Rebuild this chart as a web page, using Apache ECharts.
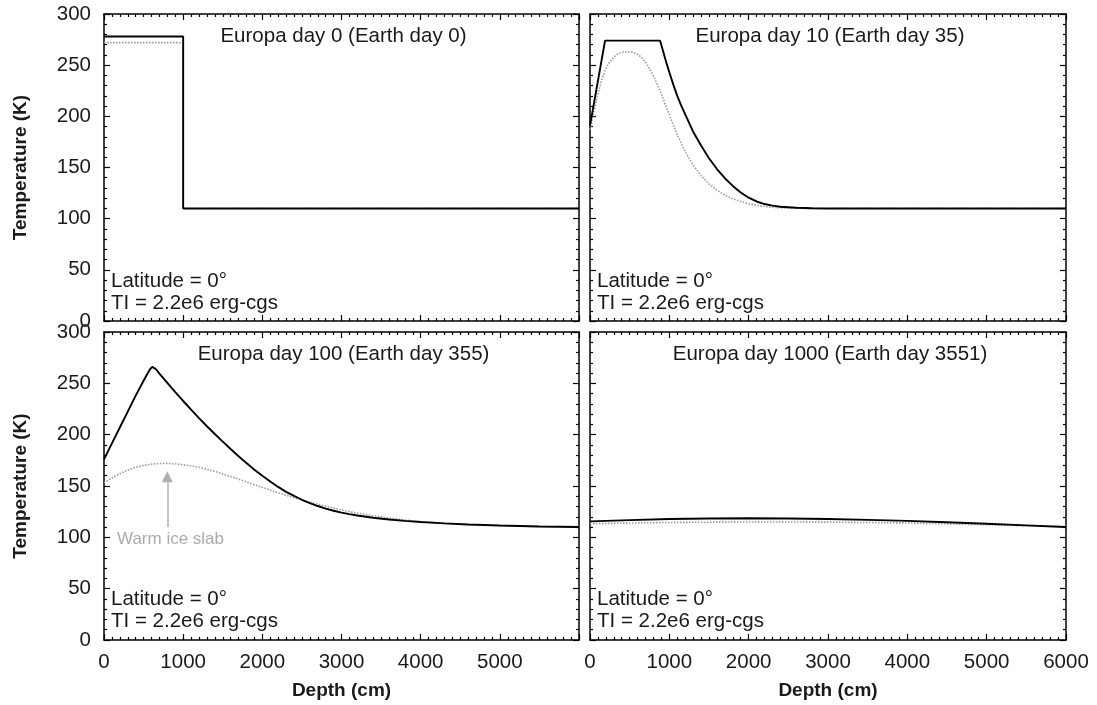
<!DOCTYPE html>
<html>
<head>
<meta charset="utf-8">
<title>Europa warm ice slab</title>
<script src="https://cdn.jsdelivr.net/npm/echarts@6/dist/echarts.min.js"></script>
<style>
html, body { margin: 0; padding: 0; background: #fff; }
#main { width: 1097px; height: 705px; }
</style>
</head>
<body>
<div id="main"></div>
<script>
/* panel texts */
var panelTitles = [
	'Europa day 0 (Earth day 0)',
	'Europa day 10 (Earth day 35)',
	'Europa day 100 (Earth day 355)',
	'Europa day 1000 (Earth day 3551)'
];
var latitudeText = 'Latitude = 0°';
var inertiaText = 'TI = 2.2e6 erg-cgs';
var slabText = 'Warm ice slab';

/* axes: depth (cm) and temperature (K) */
var depthMin = 0, depthMax = 6000, depthStep = 1000;
var tempMin = 0, tempMax = 300, tempStep = 50;

/* [depth, temperature] - solid black and dotted grey profiles */
var day0Solid = [[0, 278], [1000, 278], [1000, 110], [6000, 110]];
var day0Dotted = [[0, 272], [1000, 272], [1000, 110], [6000, 110]];

var day10Solid = [[0, 191], [190, 274], [883, 274], [920, 264], [960, 253], [1000, 243], [1050, 231],
	[1100, 220], [1150, 210.5], [1200, 202], [1300, 185], [1400, 171.5], [1500, 159], [1600, 148.5],
	[1700, 139.5], [1800, 132], [1900, 125.5], [2000, 120.5], [2100, 116.8], [2200, 114.3], [2300, 112.7],
	[2400, 111.7], [2600, 110.6], [2800, 110.2], [3000, 110], [6000, 110]];
var day10Dotted = [[0, 187], [50, 205], [100, 222], [150, 236], [200, 246.5], [250, 253.5], [300, 258],
	[350, 261], [400, 262.5], [450, 263], [500, 263], [550, 262.3], [600, 260.5], [650, 257.5], [700, 253],
	[750, 247], [800, 239.5], [850, 231], [900, 221.5], [950, 211.5], [1000, 201.5], [1050, 191.5],
	[1100, 182], [1150, 173.3], [1200, 165.5], [1300, 152.3], [1400, 142], [1500, 134], [1600, 127.8],
	[1700, 123], [1800, 119.4], [1900, 116.7], [2000, 114.6], [2100, 113], [2200, 111.9], [2300, 111.1],
	[2400, 110.6], [2600, 110.2], [2800, 110], [6000, 110]];

var day100Solid = [[0, 176], [100, 191.5], [200, 207], [300, 222.5], [400, 238], [500, 252.5], [550, 259.5],
	[580, 263.5], [610, 266], [630, 266], [660, 263.5], [700, 259.5], [800, 250.5], [900, 241.5],
	[1000, 232.8], [1100, 224.3], [1200, 216.1], [1300, 208.2], [1400, 200.6], [1500, 193.2], [1600, 186],
	[1700, 179], [1800, 172.3], [1900, 165.9], [2000, 159.9], [2100, 154.3], [2200, 149.1], [2300, 144.3],
	[2400, 140.3], [2500, 136.6], [2600, 133.3], [2700, 130.5], [2800, 128], [2900, 125.9], [3000, 124.1],
	[3100, 122.6], [3200, 121.3], [3400, 119.1], [3600, 117.4], [3800, 116], [4000, 114.9], [4300, 113.6],
	[4600, 112.5], [5000, 111.5], [5500, 110.6], [6000, 110]];
var day100Dotted = [[0, 153], [100, 157.8], [200, 162], [300, 165.5], [400, 168.2], [500, 170.1], [600, 171.3],
	[700, 171.9], [800, 172], [900, 171.6], [1000, 170.7], [1100, 169.6], [1200, 168.2], [1400, 164.2],
	[1600, 159.3], [1800, 154], [2000, 148.6], [2200, 143.4], [2400, 138.6], [2600, 134.2], [2800, 130.2],
	[3000, 126.7], [3200, 123.6], [3400, 121], [3600, 118.8], [3800, 116.9], [4000, 115.3], [4300, 113.6],
	[4600, 112.4], [5000, 111.3], [5500, 110.5], [6000, 110]];

var day1000Solid = [[0, 115.5], [500, 116.8], [1000, 117.8], [1500, 118.4], [2000, 118.6], [2500, 118.4],
	[3000, 117.8], [3500, 117], [4000, 116], [4500, 114.7], [5000, 113.2], [5500, 111.6], [6000, 110]];
var day1000Dotted = [[0, 113.3], [1000, 114.5], [2000, 115], [3000, 114.8], [4000, 114], [4500, 113.2],
	[5000, 112.2], [5500, 111.1], [6000, 110]];

/* arrow and label for the warm slab (data coords) */
var slabArrow = [[800, 110], [800, 159]];
var slabLabelAt = [840, 98];

var profiles = [
	[day0Solid, day0Dotted],
	[day10Solid, day10Dotted],
	[day100Solid, day100Dotted],
	[day1000Solid, day1000Dotted]
];

var fontName = '"Liberation Sans", Arial, sans-serif';
var grids = [
	{ left: 104, top: 14, width: 475, height: 307 },
	{ left: 590, top: 14, width: 476, height: 307 },
	{ left: 104, top: 332, width: 475, height: 308 },
	{ left: 590, top: 332, width: 476, height: 308 }
];

var tickLine = { color: '#000', width: 1.2 };

function plainNumber(v) {
	return String(v);
}

function depthAxis(gridIndex, pos, showLabel, hideLast, withName) {
	return {
		type: 'value', gridIndex: gridIndex, position: pos,
		min: depthMin, max: depthMax, interval: depthStep,
		axisLine: { show: true, onZero: false, lineStyle: { color: '#000', width: 1.5 } },
		axisTick: { show: true, inside: true, length: 6, lineStyle: tickLine },
		minorTick: { show: true, splitNumber: 10, length: 3, lineStyle: tickLine },
		splitLine: { show: false },
		minorSplitLine: { show: false },
		axisLabel: { show: showLabel, showMinLabel: true, showMaxLabel: !hideLast, margin: 12,
			formatter: plainNumber, color: '#1a1a1a', fontSize: 20.5, fontFamily: fontName },
		name: withName ? 'Depth (cm)' : '',
		nameLocation: 'middle', nameGap: 41,
		nameTextStyle: { color: '#1a1a1a', fontSize: 19, fontWeight: 'bold', fontFamily: fontName }
	};
}

function tempAxis(gridIndex, pos, showLabel, withName) {
	return {
		type: 'value', gridIndex: gridIndex, position: pos,
		min: tempMin, max: tempMax, interval: tempStep,
		axisLine: { show: true, onZero: false, lineStyle: { color: '#000', width: 1.5 } },
		axisTick: { show: true, inside: true, length: 6, lineStyle: tickLine },
		minorTick: { show: true, splitNumber: 5, length: 3, lineStyle: tickLine },
		splitLine: { show: false },
		minorSplitLine: { show: false },
		axisLabel: { show: showLabel, showMinLabel: true, showMaxLabel: true, margin: 13,
			formatter: plainNumber, color: '#1a1a1a', fontSize: 20.5, fontFamily: fontName },
		name: withName ? 'Temperature (K)' : '',
		nameLocation: 'middle', nameGap: 74,
		nameTextStyle: { color: '#1a1a1a', fontSize: 19, fontWeight: 'bold', fontFamily: fontName }
	};
}

function getOption() {
	var option = {
		animation: false,
		backgroundColor: '#fff',
		grid: [],
		xAxis: [],
		yAxis: [],
		series: [],
		graphic: []
	};
	for(var i = 0; i < grids.length; i++) {
		var g = grids[i];
		var isBottom = i >= 2;
		var isLeft = i % 2 == 0;
		option.grid.push({ left: g.left, top: g.top, width: g.width, height: g.height,
			containLabel: false, outerBoundsMode: 'none', show: false });
		option.xAxis.push(depthAxis(i, 'bottom', isBottom, i == 2, isBottom));
		option.xAxis.push(depthAxis(i, 'top', false, false, false));
		option.yAxis.push(tempAxis(i, 'left', isLeft, isLeft));
		option.yAxis.push(tempAxis(i, 'right', false, false));

		var dotted = {
			type: 'line', xAxisIndex: 2 * i, yAxisIndex: 2 * i,
			data: profiles[i][1], showSymbol: false, symbol: 'none', z: 2,
			lineStyle: { color: '#9a9a9a', width: 1.6, type: [1.5, 1.5] }
		};
		var solid = {
			type: 'line', xAxisIndex: 2 * i, yAxisIndex: 2 * i,
			data: profiles[i][0], showSymbol: false, symbol: 'none', z: 3,
			lineStyle: { color: '#000', width: 1.9 }
		};
		if(i == 2) {
			/* warm ice slab arrow */
			dotted.markLine = {
				silent: true, animation: false,
				symbol: ['none', 'triangle'], symbolSize: 11,
				lineStyle: { color: '#b0b0b0', width: 1.5, type: 'solid' },
				label: { show: false },
				data: [[{ coord: slabArrow[0] }, { coord: slabArrow[1] }]]
			};
			dotted.markPoint = {
				silent: true, animation: false,
				symbol: 'circle', symbolSize: 0,
				label: { show: true, position: 'inside', formatter: slabText,
					color: '#ababab', fontSize: 17, fontFamily: fontName },
				data: [{ coord: slabLabelAt }]
			};
		}
		option.series.push(dotted, solid);

		var cx = g.left + g.width / 2;
		var textLeft = isLeft ? 111 : 597;
		var base = isBottom ? 318 : 0;
		option.graphic.push(panelText(panelTitles[i], cx + 2, 36 + base, 'center'));
		option.graphic.push(panelText(latitudeText, textLeft, 281.5 + base, 'left'));
		option.graphic.push(panelText(inertiaText, textLeft, 303.5 + base, 'left'));
	}
	return option;
}

function panelText(text, x, y, align) {
	return {
		type: 'text', x: x, y: y, z: 10, silent: true,
		style: {
			text: text, fill: '#1a1a1a', font: '20.5px ' + fontName,
			textAlign: align, align: align,
			textVerticalAlign: 'middle', verticalAlign: 'middle'
		}
	};
}

var chart = echarts.init(document.getElementById('main'), null, { renderer: 'canvas' });
chart.setOption(getOption());
</script>
</body>
</html>
